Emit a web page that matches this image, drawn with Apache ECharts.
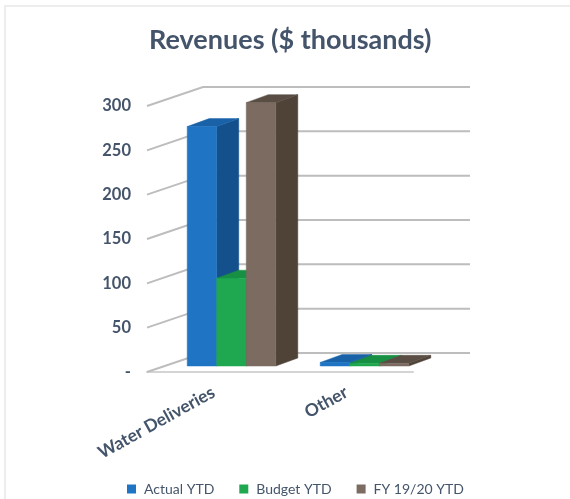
<!DOCTYPE html>
<html>
<head>
<meta charset="utf-8">
<style>html,body{margin:0;padding:0;background:#fff}#c{width:570px;height:499px}</style>
<script src="https://cdn.jsdelivr.net/npm/echarts@6/dist/echarts.min.js"></script>
</head>
<body>
<div id="c"></div>
<script>
const titleText = 'Revenues ($ thousands)';
const categories = ['Water Deliveries', 'Other'];
const tickValues = [0, 50, 100, 150, 200, 250, 300];
const actualYTD = [270, 4];
const budgetYTD = [99, 3];
const fy1920YTD = [297, 3];

const ink = '#44546a';
const gridInk = '#bdbdbd';
const wallDepth = [56, -19];
const barFront = [18, -6];
const barDepth = [22, -8];
const barShare = 0.222;

function poly(points, fill) {
  return { type: 'polygon', shape: { points: points }, style: { fill: fill, stroke: fill, lineWidth: 0.5 } };
}
function barSeries(name, values, slot, front, top, side) {
  return {
    name: name,
    type: 'custom',
    coordinateSystem: 'cartesian2d',
    clip: false,
    z: 3 + slot,
    itemStyle: { color: front },
    encode: { x: 0, y: 1 },
    data: values.map((v, i) => [i, v]),
    renderItem: function (params, api) {
      const base = api.coord([api.value(0), 0]);
      const head = api.coord([api.value(0), api.value(1)]);
      const w = api.size([1, 0])[0] * barShare;
      const x0 = base[0] + barFront[0] + (slot - 1.5) * w;
      const x1 = x0 + w;
      const yb = base[1] + barFront[1];
      const yt = head[1] + barFront[1];
      const dx = barDepth[0], dy = barDepth[1];
      return {
        type: 'group',
        children: [
          poly([[x1, yb], [x1 + dx, yb + dy], [x1 + dx, yt + dy], [x1, yt]], side),
          poly([[x0, yt], [x1, yt], [x1 + dx, yt + dy], [x0 + dx, yt + dy]], top),
          poly([[x0, yb], [x1, yb], [x1, yt], [x0, yt]], front)
        ]
      };
    }
  };
}

const chart = echarts.init(document.getElementById('c'), null, { renderer: 'canvas' });
chart.setOption({
  animation: false,
  backgroundColor: '#fff',
  graphic: [{
    type: 'rect', silent: true, z: -10,
    shape: { x: 5, y: 6, width: 580, height: 510 },
    style: { fill: 'none', stroke: '#e8e8e8', lineWidth: 1.5 }
  }],
  title: {
    text: titleText, left: 144, top: 22,
    textStyle: { fontFamily: 'Lato', fontWeight: 'bold', fontSize: 27, color: ink }
  },
  legend: {
    data: ['Actual YTD', 'Budget YTD', 'FY 19/20 YTD'],
    left: 122, top: 477, icon: 'rect',
    itemWidth: 9, itemHeight: 9, itemGap: 25,
    textStyle: { fontFamily: 'Lato', fontSize: 14, color: ink, padding: [0, 0, 0, 3] }
  },
  grid: { left: 147, top: 106, width: 266, height: 266 },
  xAxis: {
    type: 'category', data: categories,
    axisTick: { show: false },
    axisLine: { show: true, lineStyle: { color: '#d4d4d4', width: 2 } },
    axisLabel: {
      rotate: 29, margin: 19, interval: 0,
      fontFamily: 'Lato', fontWeight: 'bold', fontSize: 17.5, color: ink
    }
  },
  yAxis: {
    type: 'value', min: 0, max: 300, interval: 50,
    splitLine: { show: false }, axisLine: { show: false }, axisTick: { show: false },
    axisLabel: {
      margin: 16, fontFamily: 'Lato', fontWeight: 'bold', fontSize: 16.5, color: ink,
      padding: [3, 0, 0, 0],
      formatter: v => (v === 0 ? '-' : String(v))
    }
  },
  series: [
    {
      name: 'walls', type: 'custom', coordinateSystem: 'cartesian2d', clip: false, z: 1,
      encode: { x: 0, y: 1 },
      data: tickValues.map(v => [0, v]),
      renderItem: function (params, api) {
        const sys = params.coordSys;
        const y = api.coord([0, api.value(1)])[1];
        const bx = sys.x + wallDepth[0], by = y + wallDepth[1];
        return {
          type: 'polyline',
          shape: { points: [[sys.x, y], [bx, by], [sys.x + sys.width + wallDepth[0] + 1, by]] },
          style: { fill: 'none', stroke: gridInk, lineWidth: 2 }
        };
      }
    },
    barSeries('Actual YTD', actualYTD, 0, '#1f75c4', '#1a62a8', '#14508c'),
    barSeries('Budget YTD', budgetYTD, 1, '#1fa84f', '#179043', '#147a3a'),
    barSeries('FY 19/20 YTD', fy1920YTD, 2, '#7b6b60', '#5a4e44', '#4f4338')
  ]
});
</script>
</body>
</html>
